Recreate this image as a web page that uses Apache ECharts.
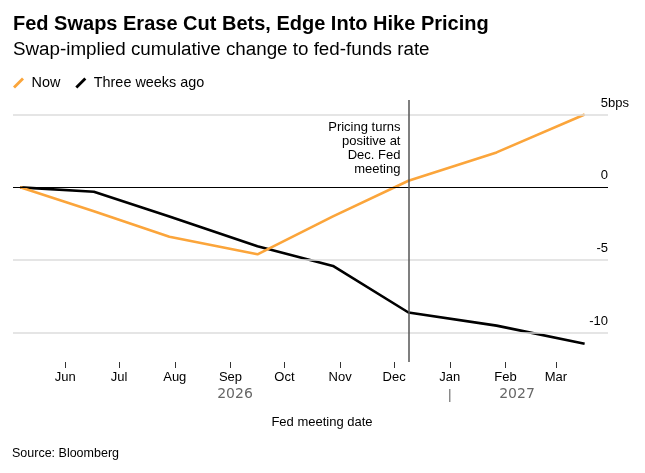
<!DOCTYPE html>
<html>
<head>
<meta charset="utf-8">
<script src="https://cdn.jsdelivr.net/npm/echarts@6/dist/echarts.min.js"></script>
<style>
html, body { margin: 0; padding: 0; background: #fff; }
#chart { width: 645px; height: 473px; }
</style>
</head>
<body>
<div id="chart"></div>
<script>
// start date + FOMC meeting dates
var dates = ['2026-05-07', '2026-06-17', '2026-07-29', '2026-09-16', '2026-10-28', '2026-12-09', '2027-01-27', '2027-03-17'];
var nowValues = [0, -1.65, -3.4, -4.6, -2.0, 0.45, 2.4, 5.0];
var agoValues = [0, -0.3, -2.0, -4.05, -5.4, -8.6, -9.5, -10.75];
var yTicks = [5, 0, -5, -10];
var monthNames = ['Jan', 'Feb', 'Mar', 'Apr', 'May', 'Jun', 'Jul', 'Aug', 'Sep', 'Oct', 'Nov', 'Dec'];
var decMeeting = '2026-12-09';
var axisStart = '2026-05-03';
var axisEnd = '2027-03-30';

var FONT = 'Liberation Sans';

function ts(s) {
    var p = s.split('-');
    return new Date(+p[0], +p[1] - 1, +p[2]).getTime();
}
function pairs(vals) {
    return dates.map(function (d, i) { return [ts(d), vals[i]]; });
}

var myChart = echarts.init(document.getElementById('chart'));

option = {
    animation: false,
    backgroundColor: '#fff',
    textStyle: { fontFamily: FONT },
    title: {
        text: 'Fed Swaps Erase Cut Bets, Edge Into Hike Pricing',
        subtext: 'Swap-implied cumulative change to fed-funds rate',
        left: 8,
        top: 9,
        itemGap: 6,
        textStyle: { fontFamily: FONT, fontSize: 20, fontWeight: 'bold', color: '#000' },
        subtextStyle: { fontFamily: FONT, fontSize: 18.8, color: '#000' }
    },
    legend: {
        left: 8,
        top: 71,
        itemWidth: 12,
        itemHeight: 11,
        itemGap: 15,
        textStyle: { fontFamily: FONT, fontSize: 14.4, color: '#000', padding: [0, 0, 0, 2] },
        data: [
            { name: 'Now', icon: 'path://M0,9 L9,0 L11,2 L2,11 Z' },
            { name: 'Three weeks ago', icon: 'path://M0,9 L9,0 L11,2 L2,11 Z' }
        ]
    },
    grid: { left: 13, right: 37, top: 100, bottom: 111 },
    xAxis: {
        type: 'time',
        min: ts(axisStart),
        max: ts(axisEnd),
        minInterval: 28 * 86400000,
        maxInterval: 31 * 86400000,
        axisLine: { show: false, onZero: false },
        axisTick: { length: 6, lineStyle: { color: '#333', width: 1 } },
        splitLine: { show: false },
        axisLabel: {
            margin: 9,
            fontFamily: FONT,
            fontSize: 13,
            color: '#000',
            formatter: function (value) {
                return monthNames[new Date(value).getMonth()];
            }
        }
    },
    yAxis: {
        type: 'value',
        min: -12,
        max: 6,
        position: 'right',
        axisLine: { show: false },
        axisTick: { show: false },
        axisLabel: { show: false },
        splitLine: { show: false }
    },
    series: [
        {
            // gridlines, zero line and Dec. meeting marker
            name: 'grid',
            type: 'line',
            data: [],
            z: 1,
            markLine: {
                silent: true,
                symbol: 'none',
                animation: false,
                data: yTicks.map(function (v) {
                    return {
                        yAxis: v,
                        lineStyle: { color: v === 0 ? '#000' : '#dddddd', width: v === 0 ? 1.2 : 1.6, type: 'solid' },
                        label: {
                            show: true,
                            position: 'insideEndTop',
                            distance: [0, 5],
                            formatter: String(v),
                            fontFamily: FONT,
                            fontSize: 13,
                            color: '#000'
                        }
                    };
                }).concat([{
                    xAxis: ts(decMeeting),
                    lineStyle: { color: '#555', width: 1.5, type: 'solid' },
                    label: { show: false }
                }])
            }
        },
        {
            name: 'Now',
            type: 'line',
            z: 3,
            symbol: 'none',
            color: '#fba53b',
            lineStyle: { width: 2.6, color: '#fba53b' },
            data: pairs(nowValues)
        },
        {
            name: 'Three weeks ago',
            type: 'line',
            z: 2,
            symbol: 'none',
            color: '#000',
            lineStyle: { width: 2.6, color: '#000' },
            data: pairs(agoValues)
        }
    ]
};

myChart.setOption(option);

// extra text placed after the axes exist
var janX = myChart.convertToPixel({ xAxisIndex: 0 }, ts('2027-01-01'));
var fiveY = myChart.convertToPixel({ yAxisIndex: 0 }, 5);
var decX = myChart.convertToPixel({ xAxisIndex: 0 }, ts(decMeeting));
var gridRight = 645 - 37;

myChart.setOption({
    graphic: [
        {
            type: 'text', left: gridRight, top: fiveY - 18,
            style: { text: 'bps', font: '13px "Liberation Sans"', fill: '#000' }
        },
        {
            type: 'text', x: decX - 8, y: 120,
            style: {
                text: 'Pricing turns\npositive at\nDec. Fed\nmeeting',
                font: '13px "Liberation Sans"', fill: '#000', align: 'right', lineHeight: 14
            }
        },
        {
            type: 'text', x: 235, y: 394,
            style: { text: '2026', font: '14px "DejaVu Sans"', fill: '#666', align: 'center', verticalAlign: 'middle' }
        },
        {
            type: 'text', x: 517, y: 394,
            style: { text: '2027', font: '14px "DejaVu Sans"', fill: '#666', align: 'center', verticalAlign: 'middle' }
        },
        {
            type: 'line', shape: { x1: janX, y1: 389, x2: janX, y2: 402 },
            style: { stroke: '#555', lineWidth: 1 }
        },
        {
            type: 'text', x: 322, y: 422,
            style: { text: 'Fed meeting date', font: '13px "Liberation Sans"', fill: '#000', align: 'center', verticalAlign: 'middle' }
        },
        {
            type: 'text', x: 12, y: 454,
            style: { text: 'Source: Bloomberg', font: '12.5px "Liberation Sans"', fill: '#000', verticalAlign: 'middle' }
        }
    ]
});
</script>
</body>
</html>
